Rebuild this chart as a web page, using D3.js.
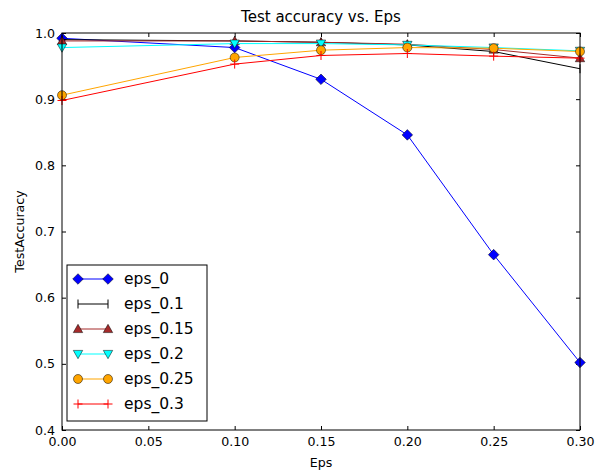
<!DOCTYPE html>
<html>
<head>
<meta charset="utf-8">
<script src="https://d3js.org/d3.v7.min.js"></script>
<style>
  body { margin: 0; background: #fff; }
  text { font-family: "DejaVu Sans", sans-serif; fill: #000; }
</style>
</head>
<body>
<div id="chart"></div>
<script>
// eps values on the x axis
const epsValues = [0, 0.1, 0.15, 0.2, 0.25, 0.3];

// test accuracy, one array per trained model
const eps0   = [0.992, 0.978, 0.930, 0.846, 0.665, 0.502];
const eps01  = [0.990, 0.988, 0.986, 0.982, 0.972, 0.946];
const eps015 = [0.988, 0.988, 0.986, 0.983, 0.975, 0.962];
const eps02  = [0.978, 0.984, 0.984, 0.982, 0.978, 0.973];
const eps025 = [0.906, 0.963, 0.974, 0.978, 0.977, 0.972];
const eps03  = [0.898, 0.953, 0.966, 0.969, 0.965, 0.962];

const seriesNames = ["eps_0", "eps_0.1", "eps_0.15", "eps_0.2", "eps_0.25", "eps_0.3"];
const xTicks = [0, 0.05, 0.1, 0.15, 0.2, 0.25, 0.3];
const yTicks = [0.4, 0.5, 0.6, 0.7, 0.8, 0.9, 1.0];

const series = [
  { name: seriesNames[0], values: eps0,   color: "#0000ff", marker: "diamond" },
  { name: seriesNames[1], values: eps01,  color: "#000000", marker: "vline" },
  { name: seriesNames[2], values: eps015, color: "#a52a2a", marker: "triup" },
  { name: seriesNames[3], values: eps02,  color: "#00ffff", marker: "tridown" },
  { name: seriesNames[4], values: eps025, color: "#ffa500", marker: "circle" },
  { name: seriesNames[5], values: eps03,  color: "#ff0000", marker: "plus" }
];

const W = 606, H = 470;
const margin = { top: 33, right: 26, bottom: 40, left: 62 };
const width = W - margin.left - margin.right;
const height = H - margin.top - margin.bottom;

const svg = d3.select("#chart").append("svg")
  .attr("width", W).attr("height", H);

const g = svg.append("g").attr("transform", `translate(${margin.left},${margin.top})`);

const x = d3.scaleLinear().domain([0, 0.3]).range([0, width]);
const y = d3.scaleLinear().domain([0.4, 1.0]).range([height, 0]);

// ticks inward on all four sides, matplotlib classic look
const tickLen = 4;
g.append("g").attr("transform", `translate(0,${height})`)
  .call(d3.axisBottom(x).tickValues(xTicks).tickFormat(d3.format(".2f")).tickSizeInner(-tickLen).tickSizeOuter(0).tickPadding(7))
  .call(a => a.select(".domain").remove())
  .call(a => a.selectAll("text").style("font-size", "12.6px").attr("font-family", "DejaVu Sans"));
g.append("g")
  .call(d3.axisTop(x).tickValues(xTicks).tickFormat("").tickSizeInner(-tickLen).tickSizeOuter(0))
  .call(a => a.select(".domain").remove());
g.append("g")
  .call(d3.axisLeft(y).tickValues(yTicks).tickFormat(d3.format(".1f")).tickSizeInner(-tickLen).tickSizeOuter(0).tickPadding(7))
  .call(a => a.select(".domain").remove())
  .call(a => a.selectAll("text").style("font-size", "12.6px").attr("font-family", "DejaVu Sans"));
g.append("g").attr("transform", `translate(${width},0)`)
  .call(d3.axisRight(y).tickValues(yTicks).tickFormat("").tickSizeInner(-tickLen).tickSizeOuter(0))
  .call(a => a.select(".domain").remove());

svg.append("defs").append("clipPath").attr("id", "clip")
  .append("rect").attr("x", -6).attr("y", -6).attr("width", width + 12).attr("height", height + 12);

function drawMarker(sel, type, color) {
  if (type === "diamond") {
    sel.append("path").attr("d", "M0,-5.3L5.3,0L0,5.3L-5.3,0Z")
      .attr("fill", color).attr("stroke", "#000").attr("stroke-width", 0.5);
  } else if (type === "circle") {
    sel.append("circle").attr("r", 4.5)
      .attr("fill", color).attr("stroke", "#000").attr("stroke-width", 0.5);
  } else if (type === "triup") {
    sel.append("path").attr("d", "M0,-4.7L4.7,3.6L-4.7,3.6Z")
      .attr("fill", color).attr("stroke", "#000").attr("stroke-width", 0.5);
  } else if (type === "tridown") {
    sel.append("path").attr("d", "M0,4.7L4.7,-3.6L-4.7,-3.6Z")
      .attr("fill", color).attr("stroke", "#000").attr("stroke-width", 0.5);
  } else if (type === "vline") {
    sel.append("path").attr("d", "M0,-4.5V4.5")
      .attr("stroke", color).attr("stroke-width", 1);
  } else if (type === "plus") {
    sel.append("path").attr("d", "M0,-4.5V4.5M-4.5,0H4.5")
      .attr("stroke", color).attr("stroke-width", 1);
  }
}

const line = d3.line().x((d, i) => x(epsValues[i])).y(d => y(d));
const plot = g.append("g").attr("clip-path", "url(#clip)");

series.forEach(s => {
  const sg = plot.append("g");
  sg.append("path").datum(s.values)
    .attr("d", line).attr("fill", "none")
    .attr("stroke", s.color).attr("stroke-width", 1);
  s.values.forEach((v, i) => {
    const m = sg.append("g").attr("transform", `translate(${x(epsValues[i])},${y(v)})`);
    drawMarker(m, s.marker, s.color);
  });
});

// frame
g.append("rect").attr("width", width).attr("height", height)
  .attr("fill", "none").attr("stroke", "#000").attr("stroke-width", 1);

// legend
const legend = g.append("g").attr("transform", "translate(5,232)");
legend.append("rect").attr("width", 140).attr("height", 156)
  .attr("fill", "#fff").attr("stroke", "#000").attr("stroke-width", 1);
series.forEach((s, i) => {
  const ly = 14 + i * 25;
  const row = legend.append("g").attr("transform", `translate(0,${ly})`);
  row.append("line").attr("x1", 11).attr("x2", 41).attr("y1", 0).attr("y2", 0)
    .attr("stroke", s.color).attr("stroke-width", 1);
  [11, 41].forEach(px => {
    drawMarker(row.append("g").attr("transform", `translate(${px},0)`), s.marker, s.color);
  });
  row.append("text").attr("x", 57).attr("y", 0).attr("dy", "0.35em")
    .style("font-size", "15.5px").text(s.name);
});

// titles
svg.append("text").attr("x", margin.left + width / 2).attr("y", 22)
  .attr("text-anchor", "middle").style("font-size", "15px").text("Test accuracy vs. Eps");
svg.append("text").attr("x", margin.left + width / 2).attr("y", 467)
  .attr("text-anchor", "middle").style("font-size", "12.6px").text("Eps");
svg.append("text").attr("transform", `translate(24,${margin.top + height / 2}) rotate(-90)`)
  .attr("text-anchor", "middle").style("font-size", "12.6px").text("TestAccuracy");
</script>
</body>
</html>
